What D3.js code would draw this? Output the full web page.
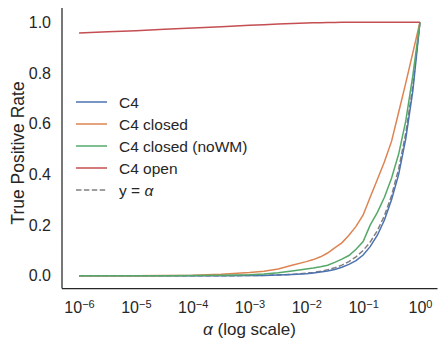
<!DOCTYPE html>
<html>
<head>
<meta charset="utf-8">
<script src="https://cdn.jsdelivr.net/npm/d3@7"></script>
<style>
  body { margin: 0; background: #fff; }
  text { font-family: "Liberation Sans", Arial, sans-serif; fill: #262626; }
</style>
</head>
<body>
<script>
// alpha values (x) shared by every curve
var alphas = [1e-6, 3.2e-6, 1e-5, 3.2e-5, 1e-4, 3.2e-4, 1e-3, 0.0018, 0.0032, 0.0056,
  0.01, 0.0133, 0.0178, 0.0237, 0.0316, 0.0422, 0.0562, 0.075,
  0.1, 0.133, 0.178, 0.237, 0.316, 0.422, 0.562, 0.75, 1];

// true positive rates
var c4 = [0, 0, 0, 0, 0.0001, 0.0003, 0.001, 0.0017, 0.003, 0.005,
  0.008, 0.011, 0.015, 0.019, 0.025, 0.034, 0.045, 0.06,
  0.082, 0.115, 0.16, 0.22, 0.30, 0.40, 0.54, 0.73, 1];
var c4Closed = [0, 0, 0.0003, 0.0008, 0.002, 0.006, 0.013, 0.018, 0.027, 0.042,
  0.056, 0.064, 0.075, 0.09, 0.11, 0.13, 0.16, 0.195,
  0.24, 0.31, 0.38, 0.45, 0.53, 0.645, 0.76, 0.88, 1];
var c4ClosedNoWM = [0, 0, 0, 0.0005, 0.001, 0.002, 0.004, 0.007, 0.012, 0.019,
  0.027, 0.031, 0.036, 0.042, 0.053, 0.066, 0.08, 0.105,
  0.135, 0.2, 0.25, 0.31, 0.385, 0.48, 0.61, 0.79, 1];
var c4Open = [0.957, 0.962, 0.966, 0.972, 0.977, 0.982, 0.988, 0.99, 0.993, 0.995,
  0.997, 0.998, 0.998, 0.999, 0.999, 1, 1, 1,
  1, 1, 1, 1, 1, 1, 1, 1, 1];

var seriesNames = ["C4", "C4 closed", "C4 closed (noWM)", "C4 open"];
var seriesValues = [c4, c4Closed, c4ClosedNoWM, c4Open];
var colors = ["#4C72B0", "#DD8452", "#55A868", "#C44E52"];

var xTicks = [1e-6, 1e-5, 1e-4, 1e-3, 1e-2, 1e-1, 1];
var yTicks = [0, 0.2, 0.4, 0.6, 0.8, 1.0];

var width = 448, height = 351;
var plotLeft = 62, plotRight = 437, plotTop = 9.5, plotBottom = 288.5;

var svg = d3.select("body").append("svg")
  .attr("width", width).attr("height", height);

var x = d3.scaleLog().domain([Math.pow(10, -6.3), Math.pow(10, 0.3)]).range([plotLeft, plotRight]);
var y = d3.scaleLinear().domain([-0.05, 1.05]).range([plotBottom, plotTop]);

// y axis
var yAxis = svg.append("g")
  .attr("transform", "translate(" + plotLeft + ",0)")
  .call(d3.axisLeft(y).tickValues(yTicks).tickSize(0).tickPadding(11).tickFormat(d3.format(".1f")));
yAxis.select(".domain").attr("stroke", "#262626").attr("stroke-width", 1.25)
  .attr("d", "M0," + (plotTop - 1.5) + "V" + plotBottom);
yAxis.selectAll("text").style("font-size", "16px");

// x axis
var xAxis = svg.append("g")
  .attr("transform", "translate(0," + plotBottom + ")")
  .call(d3.axisBottom(x).tickValues(xTicks).tickSize(0).tickPadding(13).tickFormat(""));
xAxis.select(".domain").attr("stroke", "#262626").attr("stroke-width", 1.25)
  .attr("d", "M" + plotLeft + ",0H" + (plotRight + 0.5));
xAxis.selectAll(".tick text").each(function(d) {
  var t = d3.select(this).style("font-size", "16px");
  t.append("tspan").text("10");
  t.append("tspan").attr("dy", "-0.45em").style("font-size", "11px")
    .text(String(Math.round(Math.log10(d))).replace("-", "\u2212"));
});

// lines
var line = d3.line()
  .x(function(d, i) { return x(alphas[i]); })
  .y(function(d) { return y(d); });

svg.append("path")
  .datum(alphas)
  .attr("fill", "none")
  .attr("stroke", "#808080")
  .attr("stroke-width", 1.5)
  .attr("stroke-dasharray", "5.5,2.4")
  .attr("d", line);

svg.selectAll(".series")
  .data(seriesValues)
  .enter().append("path")
  .attr("class", "series")
  .attr("fill", "none")
  .attr("stroke", function(d, i) { return colors[i]; })
  .attr("stroke-width", 1.5)
  .attr("d", line);

// legend
var legend = svg.append("g").attr("transform", "translate(76,102)");
var entries = seriesNames.map(function(n, i) { return {name: n, color: colors[i], dash: null}; });
entries.push({name: "y = ", color: "#808080", dash: "5.5,2.4", alpha: true});

var items = legend.selectAll("g").data(entries).enter().append("g")
  .attr("transform", function(d, i) { return "translate(0," + i * 22 + ")"; });
items.append("line")
  .attr("x1", 0).attr("x2", 31).attr("y1", 0).attr("y2", 0)
  .attr("stroke", function(d) { return d.color; })
  .attr("stroke-width", 1.5)
  .attr("stroke-dasharray", function(d) { return d.dash; });
items.append("text")
  .attr("x", 43).attr("y", 5.5)
  .style("font-size", "15.5px")
  .text(function(d) { return d.name; })
  .filter(function(d) { return d.alpha; })
  .append("tspan").style("font-style", "italic").text("\u03b1");

// axis labels
var xl = svg.append("text")
  .attr("x", (plotLeft + plotRight) / 2).attr("y", 335)
  .attr("text-anchor", "middle")
  .style("font-size", "17px");
xl.append("tspan").style("font-style", "italic").text("\u03b1");
xl.append("tspan").text(" (log scale)");

svg.append("text")
  .attr("transform", "translate(24,153) rotate(-90)")
  .attr("text-anchor", "middle")
  .style("font-size", "17.5px")
  .text("True Positive Rate");
</script>
</body>
</html>
